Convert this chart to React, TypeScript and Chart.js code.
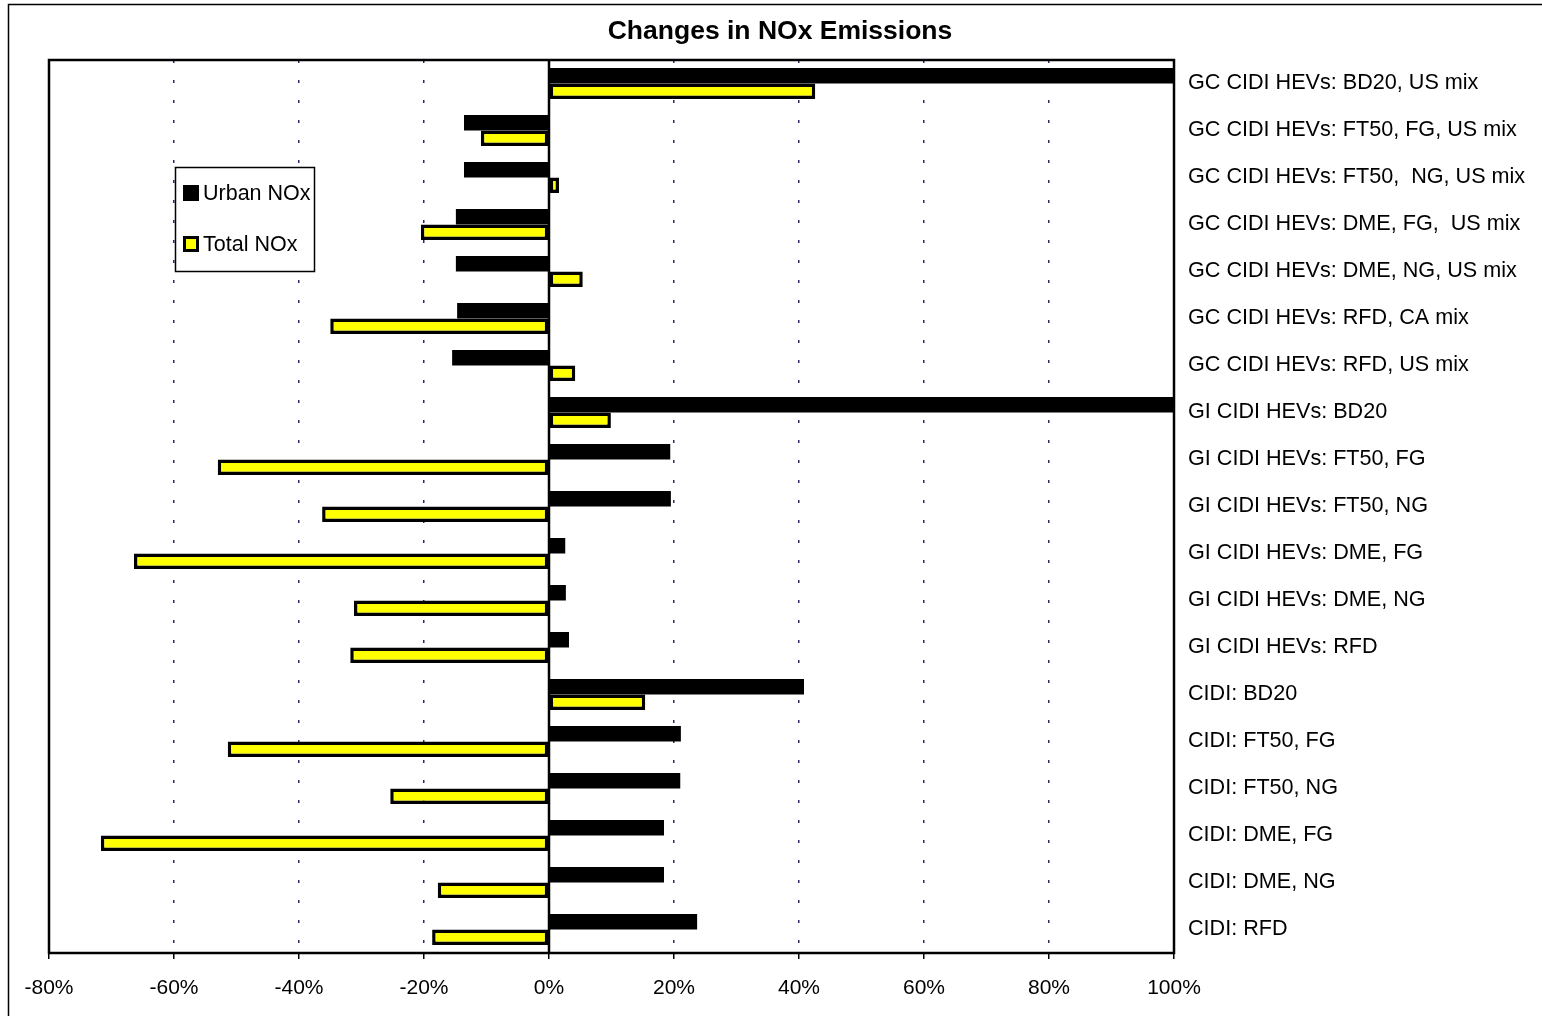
import React, { useEffect, useRef } from "react";
import { Chart, registerables } from "chart.js";

Chart.register(...registerables);

const TITLE = "Changes in NOx Emissions";

const categories = [
  "GC CIDI HEVs: BD20, US mix",
  "GC CIDI HEVs: FT50, FG, US mix",
  "GC CIDI HEVs: FT50,  NG, US mix",
  "GC CIDI HEVs: DME, FG,  US mix",
  "GC CIDI HEVs: DME, NG, US mix",
  "GC CIDI HEVs: RFD, CA mix",
  "GC CIDI HEVs: RFD, US mix",
  "GI CIDI HEVs: BD20",
  "GI CIDI HEVs: FT50, FG",
  "GI CIDI HEVs: FT50, NG",
  "GI CIDI HEVs: DME, FG",
  "GI CIDI HEVs: DME, NG",
  "GI CIDI HEVs: RFD",
  "CIDI: BD20",
  "CIDI: FT50, FG",
  "CIDI: FT50, NG",
  "CIDI: DME, FG",
  "CIDI: DME, NG",
  "CIDI: RFD",
];

const urbanNOx = [
  100.5, -13.6, -13.6, -14.9, -14.9, -14.7, -15.5, 100.5, 19.4, 19.5, 2.6, 2.7, 3.2, 40.8, 21.1,
  21.0, 18.4, 18.4, 23.7,
];

const totalNOx = [
  42.6, -10.9, 1.6, -20.5, 5.4, -35.0, 4.2, 9.9, -53.0, -36.3, -66.4, -31.2, -31.8, 15.4, -51.4,
  -25.4, -71.7, -17.8, -18.7,
];

const xTicks = [-80, -60, -40, -20, 0, 20, 40, 60, 80, 100];

const FONT = "'Liberation Sans', Arial, Helvetica, sans-serif";

const framePlugin = {
  id: "framePlugin",
  beforeDatasetsDraw(chart: any) {
    const { ctx, chartArea } = chart;
    const x0 = chart.scales.x.getPixelForValue(0);
    ctx.save();
    ctx.strokeStyle = "#000";
    ctx.lineWidth = 2.5;
    ctx.beginPath();
    ctx.moveTo(x0, chartArea.top);
    ctx.lineTo(x0, chartArea.bottom);
    ctx.stroke();
    ctx.restore();
  },
  afterDraw(chart: any) {
    const { ctx, chartArea } = chart;
    ctx.save();
    // outer frame
    ctx.strokeStyle = "#000";
    ctx.lineWidth = 1.5;
    ctx.beginPath();
    ctx.moveTo(8.5, 1016);
    ctx.lineTo(8.5, 4.5);
    ctx.lineTo(1542, 4.5);
    ctx.stroke();
    // plot border
    ctx.lineWidth = 2.5;
    ctx.strokeRect(chartArea.left, chartArea.top, chartArea.right - chartArea.left, chartArea.bottom - chartArea.top);
    // title
    ctx.fillStyle = "#000";
    ctx.font = `bold 26.5px ${FONT}`;
    ctx.textAlign = "center";
    ctx.textBaseline = "middle";
    ctx.fillText(TITLE, 780, 32);
    // legend
    const ds = chart.data.datasets;
    ctx.fillStyle = "#fff";
    ctx.fillRect(175, 167, 139, 104);
    ctx.lineWidth = 1.5;
    ctx.strokeStyle = "#000";
    ctx.strokeRect(175.5, 167.5, 139, 104);
    ctx.fillStyle = "#000";
    ctx.fillRect(183, 185, 16, 16);
    ctx.fillStyle = "#000";
    ctx.fillRect(183, 236, 16, 16);
    ctx.fillStyle = "#ffff00";
    ctx.fillRect(186, 239, 10, 10);
    ctx.fillStyle = "#000";
    ctx.font = `21.5px ${FONT}`;
    ctx.textAlign = "left";
    ctx.fillText(ds[0].label, 203, 194);
    ctx.fillText(ds[1].label, 203, 245);
    ctx.restore();
  },
};

export default function App() {
  const ref = useRef<HTMLCanvasElement | null>(null);
  useEffect(() => {
    if (!ref.current) return;
    const chart = new Chart(ref.current, {
      type: "bar",
      data: {
        labels: categories,
        datasets: [
          {
            label: "Urban NOx",
            data: urbanNOx,
            backgroundColor: "#000",
            borderWidth: 0,
            categoryPercentage: 0.66,
            barPercentage: 1,
          },
          {
            label: "Total NOx",
            data: totalNOx,
            backgroundColor: "#ffff00",
            borderColor: "#000",
            borderWidth: 3.5,
            borderSkipped: false,
            categoryPercentage: 0.66,
            barPercentage: 1,
          },
        ],
      },
      options: {
        indexAxis: "y",
        animation: false,
        responsive: false,
        maintainAspectRatio: false,
        layout: { padding: { top: 60, left: 49, right: 0, bottom: 0 } },
        plugins: {
          legend: { display: false },
          title: { display: false },
          tooltip: { enabled: false },
        },
        scales: {
          x: {
            type: "linear",
            min: -80,
            max: 100,
            afterBuildTicks: (scale: any) => {
              scale.ticks = xTicks.map((v) => ({ value: v }));
            },
            afterFit: (scale: any) => {
              scale.height = 63;
            },
            grid: {
              color: (c: any) =>
                c.tick && (c.tick.value === 0 || c.tick.value === -80 || c.tick.value === 100)
                  ? "rgba(0,0,0,0)"
                  : "#2a2a6a",
              lineWidth: 1.5,
              drawTicks: true,
              tickLength: 6,
              tickColor: "#000",
              tickBorderDash: [],
            },
            border: { display: false, dash: [3, 17] },
            ticks: {
              color: "#000",
              font: { family: FONT, size: 21 },
              padding: 17,
              callback: (v: any) => `${v}%`,
            },
          },
          y: {
            position: "right",
            afterFit: (scale: any) => {
              scale.width = 368;
            },
            grid: { display: false, drawTicks: false },
            border: { display: false },
            ticks: {
              color: "#000",
              font: { family: FONT, size: 21.6 },
              padding: 14,
            },
          },
        },
      },
      plugins: [framePlugin],
    } as any);
    return () => chart.destroy();
  }, []);
  return (
    <div style={{ position: "fixed", left: 0, top: 0, width: 1542, height: 1016, background: "#fff" }}>
      <canvas ref={ref} width={1542} height={1016} style={{ display: "block" }} />
    </div>
  );
}
